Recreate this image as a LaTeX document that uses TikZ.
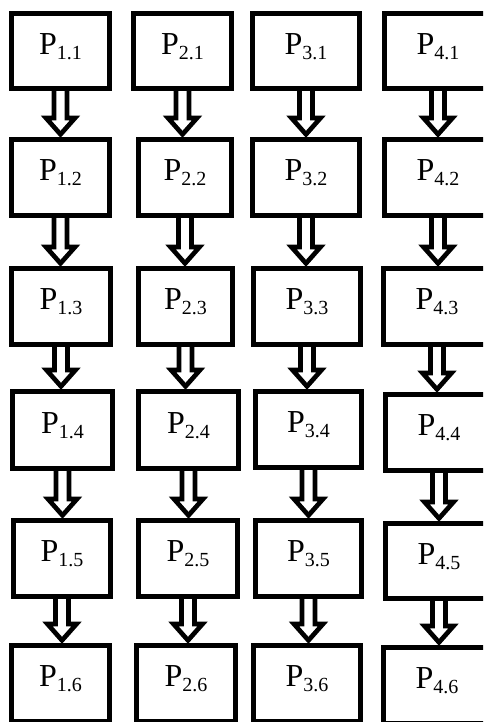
\documentclass[tikz,border=0pt]{standalone}
\usepackage{fontspec}
\setmainfont{Liberation Serif}
\usetikzlibrary{calc}
\pgfdeclarelayer{background}
\pgfsetlayers{background,main}
\newcommand\plab[1]{\raisebox{-2.25pt}[0pt][0pt]{\rmfamily P\raisebox{-3.75pt}{\fontsize{15}{16}\selectfont #1}}}
\newcommand\harr[2]{\draw[harrow] let \p1=(#1.south), \p2=(#2.north) in
  (\x1-4.875pt,\y1+3pt) -- (\x1-4.875pt,\y2+14.25pt) -- (\x1-10.875pt,\y2+14.25pt)
  -- (\x1,\y2+2pt) -- (\x1+10.875pt,\y2+14.25pt) -- (\x1+4.875pt,\y2+14.25pt)
  -- (\x1+4.875pt,\y1+3pt);}
\tikzset{
  pbox/.style={draw, line width=3.75pt, fill=white, inner sep=0pt,
    minimum width={(#1-5)*0.75pt}, minimum height=57pt,
    font=\fontsize{24}{28}\selectfont},
  harrow/.style={draw, fill=white, line width=3.5pt, line join=miter}
}
\begin{document}
\begin{tikzpicture}[x=0.75pt,y=-0.75pt]
\clip (0,0) rectangle (483,722);
\begin{pgfonlayer}{background}
\fill[white] (0,0) rectangle (483,722);
\end{pgfonlayer}
% row 1
\node[pbox=103, minimum height=56.25pt] (p11) at (60.5,51) {\plab{1.1}};
\node[pbox=103, minimum height=56.25pt] (p21) at (182.5,51) {\plab{2.1}};
\node[pbox=112, minimum height=56.25pt] (p31) at (306,51) {\plab{3.1}};
\node[pbox=112, minimum height=56.25pt] (p41) at (438,51) {\plab{4.1}};
% row 2
\node[pbox=103] (p12) at (60.5,177.5) {\plab{1.2}};
\node[pbox=98]  (p22) at (185,177.5) {\plab{2.2}};
\node[pbox=112] (p32) at (306,177.5) {\plab{3.2}};
\node[pbox=112] (p42) at (438,177.5) {\plab{4.2}};
% row 3
\node[pbox=104] (p13) at (61,306.5) {\plab{1.3}};
\node[pbox=99]  (p23) at (185.5,306.5) {\plab{2.3}};
\node[pbox=112] (p33) at (307,306.5) {\plab{3.3}};
\node[pbox=112] (p43) at (437,306.5) {\plab{4.3}};
% row 4
\node[pbox=105, minimum height=57.75pt] (p14) at (62.5,430) {\plab{1.4}};
\node[pbox=105, minimum height=57.75pt] (p24) at (188.5,430) {\plab{2.4}};
\node[pbox=111] (p34) at (308.5,429.5) {\plab{3.4}};
\node[pbox=112] (p44) at (439,432.5) {\plab{4.4}};
% row 5
\node[pbox=102] (p15) at (62,558.5) {\plab{1.5}};
\node[pbox=104] (p25) at (188,558.5) {\plab{2.5}};
\node[pbox=111] (p35) at (308.5,558.5) {\plab{3.5}};
\node[pbox=112, minimum height=56.25pt] (p45) at (439,561) {\plab{4.5}};
% row 6
\node[pbox=103] (p16) at (60.5,683.5) {\plab{1.6}};
\node[pbox=104] (p26) at (186,683.5) {\plab{2.6}};
\node[pbox=112] (p36) at (307,683.5) {\plab{3.6}};
\node[pbox=112] (p46) at (437,685.5) {\plab{4.6}};
\begin{pgfonlayer}{background}
\foreach \c in {1,2,3,4}{
  \harr{p\c1}{p\c2}
  \harr{p\c2}{p\c3}
  \harr{p\c3}{p\c4}
  \harr{p\c4}{p\c5}
  \harr{p\c5}{p\c6}
}
\end{pgfonlayer}
\end{tikzpicture}
\end{document}
